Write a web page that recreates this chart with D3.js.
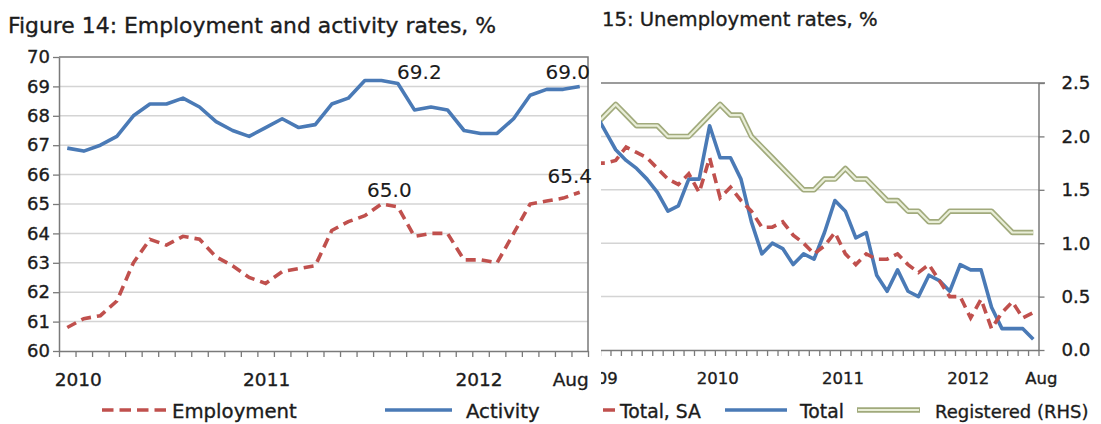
<!DOCTYPE html>
<html>
<head>
<meta charset="utf-8">
<script src="https://cdn.jsdelivr.net/npm/d3@7"></script>
<style>
  body { margin: 0; background: #fff; }
  svg { display: block; font-family: "DejaVu Sans", sans-serif; }
  svg text { stroke: #1c1c1c; stroke-width: 0.35px; }
</style>
</head>
<body>
<svg id="chart" width="1101" height="424"></svg>
<script>
// ---- Figure 14: employment and activity rates, Jan 2010 - Aug 2012
const monthsL = [
  "2010-01","2010-02","2010-03","2010-04","2010-05","2010-06","2010-07","2010-08","2010-09","2010-10","2010-11","2010-12",
  "2011-01","2011-02","2011-03","2011-04","2011-05","2011-06","2011-07","2011-08","2011-09","2011-10","2011-11","2011-12",
  "2012-01","2012-02","2012-03","2012-04","2012-05","2012-06","2012-07","2012-08"
];
const activity = [66.9, 66.8, 67.0, 67.3, 68.0, 68.4, 68.4, 68.6, 68.3, 67.8, 67.5, 67.3,
                  67.6, 67.9, 67.6, 67.7, 68.4, 68.6, 69.2, 69.2, 69.1, 68.2, 68.3, 68.2,
                  67.5, 67.4, 67.4, 67.9, 68.7, 68.9, 68.9, 69.0];
const employment = [60.8, 61.1, 61.2, 61.7, 63.0, 63.8, 63.6, 63.9, 63.8, 63.2, 62.9, 62.5,
                    62.3, 62.7, 62.8, 62.9, 64.1, 64.4, 64.6, 65.0, 64.9, 63.9, 64.0, 64.0,
                    63.1, 63.1, 63.0, 64.0, 65.0, 65.1, 65.2, 65.4];
const yTicksL = [60, 61, 62, 63, 64, 65, 66, 67, 68, 69, 70];
const tickMonthsL = ["2010-01", "2011-01", "2012-01", "2012-08"];
const tickTextL = ["2010", "2011", "2012", "Aug"];
const noteMonthsL = ["2011-08", "2012-08", "2011-08", "2012-08"];
const noteValuesL = [69.2, 69.0, 65.0, 65.4];

// ---- Figure 15: unemployment rates (its left axis is hidden behind figure 14)
const monthsR = [
  "2009-02","2009-03","2009-04","2009-05","2009-06","2009-07","2009-08","2009-09","2009-10","2009-11","2009-12",
  "2010-01","2010-02","2010-03","2010-04","2010-05","2010-06","2010-07","2010-08","2010-09","2010-10","2010-11","2010-12",
  "2011-01","2011-02","2011-03","2011-04","2011-05","2011-06","2011-07","2011-08","2011-09","2011-10","2011-11","2011-12",
  "2012-01","2012-02","2012-03","2012-04","2012-05","2012-06","2012-07","2012-08"
];
const totalSA = [15.0, 15.0, 15.1, 15.6, 15.4, 15.2, 14.8, 14.4, 14.2, 14.6, 13.9,
                 15.2, 13.7, 14.1, 13.6, 13.2, 12.6, 12.6, 12.8, 12.3, 12.0, 11.6, 11.9,
                 12.4, 11.6, 11.2, 11.6, 11.4, 11.4, 11.6, 11.2, 10.9, 11.2, 10.6, 10.0,
                 10.0, 9.2, 9.9, 8.8, 9.4, 9.8, 9.2, 9.4];
const total = [16.9, 16.2, 15.5, 15.1, 14.8, 14.4, 13.9, 13.2, 13.4, 14.4, 14.4,
               16.4, 15.2, 15.2, 14.4, 12.8, 11.6, 12.0, 11.8, 11.2, 11.6, 11.4, 12.4,
               13.6, 13.2, 12.2, 12.4, 10.8, 10.2, 11.0, 10.2, 10.0, 10.8, 10.6, 10.2,
               11.2, 11.0, 11.0, 9.6, 8.8, 8.8, 8.8, 8.4];
const registered = [2.1, 2.2, 2.3, 2.2, 2.1, 2.1, 2.1, 2.0, 2.0, 2.0, 2.1,
                    2.2, 2.3, 2.2, 2.2, 2.0, 1.9, 1.8, 1.7, 1.6, 1.5, 1.5, 1.6,
                    1.6, 1.7, 1.6, 1.6, 1.5, 1.4, 1.4, 1.3, 1.3, 1.2, 1.2, 1.3,
                    1.3, 1.3, 1.3, 1.3, 1.2, 1.1, 1.1, 1.1];
const yTicksR = [0, 0.5, 1.0, 1.5, 2.0, 2.5];
const tickMonthsR = ["2009-02", "2010-01", "2011-01", "2012-01", "2012-08"];
const tickTextR = ["09", "2010", "2011", "2012", "Aug"];

const RED = '#c0504d', BLUE = '#4a7ab6', AXIS = '#7a7a7a', GRID = '#d4d4d4', INK = '#1c1c1c';
const OLIVE = '#a1aa7c', OLIVE_IN = '#e9eed8';

const svg = d3.select('#chart');

// ================= right panel (drawn first, figure 14 sits on top of it)
const right = svg.append('g');

const xRi = d3.scaleLinear().domain([0, monthsR.length]).range([589.6, 1038.5]);
const xR = m => xRi(monthsR.indexOf(m) + 0.5);
const yR = d3.scaleLinear().domain([0, 2.5]).range([350, 83]);
const yRL = d3.scaleLinear().domain([8, 18]).range([350, 83]);   // hidden LHS

right.append('text')
  .attr('x', 602).attr('y', 26)
  .attr('font-size', 19.6).attr('fill', INK)
  .text('15: Unemployment rates, %');

// gridlines
right.selectAll('line.grid')
  .data(yTicksR.filter(d => d > 0 && d < 2.5))
  .join('line')
  .attr('class', 'grid')
  .attr('x1', 589).attr('x2', 1038.5)
  .attr('y1', yR).attr('y2', yR)
  .attr('stroke', GRID).attr('stroke-width', 1.5);

// frame top
right.append('line')
  .attr('x1', 589).attr('x2', 1045)
  .attr('y1', yR(2.5)).attr('y2', yR(2.5))
  .attr('stroke', AXIS).attr('stroke-width', 1.5);

// right axis
const axR = right.append('g')
  .attr('transform', 'translate(1038.5,0)')
  .call(d3.axisRight(yR).tickValues(yTicksR).tickSize(6).tickSizeOuter(0)
    .tickPadding(17).tickFormat(d3.format('.1f')));

// bottom axis, one tick per month
const axBR = right.append('g')
  .attr('transform', `translate(0,${yR(0)})`)
  .call(d3.axisBottom(xRi).tickValues(d3.range(0, monthsR.length + 1))
    .tickSize(6).tickSizeOuter(0).tickFormat(''));

[axR, axBR].forEach(a => {
  a.select('.domain').attr('stroke', AXIS).attr('stroke-width', 1.5);
  a.selectAll('.tick line').attr('stroke', AXIS).attr('stroke-width', 1.3);
  a.selectAll('.tick text').attr('fill', INK).attr('font-size', 18.2)
    .attr('font-family', '"DejaVu Sans", sans-serif');
});

right.selectAll('text.xlab')
  .data(tickMonthsR)
  .join('text')
  .attr('class', 'xlab')
  .attr('x', (d, i) => xR(d) + (i === 0 ? 23 : 8))
  .attr('y', 384)
  .attr('text-anchor', (d, i) => i === 0 ? 'end' : 'middle')
  .attr('font-size', 16.5).attr('fill', INK)
  .text((d, i) => tickTextR[i]);

const lineR = (scale) => d3.line()
  .x((d, i) => xR(monthsR[i]))
  .y(d => scale(d));

// registered: a pale line with an olive outline
right.append('path')
  .attr('d', lineR(yR)(registered))
  .attr('fill', 'none').attr('stroke', OLIVE).attr('stroke-width', 5.5)
  .attr('stroke-linejoin', 'round');
right.append('path')
  .attr('d', lineR(yR)(registered))
  .attr('fill', 'none').attr('stroke', OLIVE_IN).attr('stroke-width', 2.2)
  .attr('stroke-linejoin', 'round');

right.append('path')
  .attr('d', lineR(yRL)(total))
  .attr('fill', 'none').attr('stroke', BLUE).attr('stroke-width', 3.6)
  .attr('stroke-linejoin', 'round');

right.append('path')
  .attr('d', lineR(yRL)(totalSA))
  .attr('fill', 'none').attr('stroke', RED).attr('stroke-width', 3.6)
  .attr('stroke-dasharray', '10,6');

// legend
const legR = right.append('g').attr('transform', 'translate(0,410)');
legR.append('line').attr('x1', 615).attr('x2', 560).attr('y1', 0).attr('y2', 0)
  .attr('stroke', RED).attr('stroke-width', 3.6).attr('stroke-dasharray', '12,6');
legR.append('text').attr('x', 620).attr('y', 8).attr('font-size', 18.8).attr('fill', INK).text('Total, SA');
legR.append('line').attr('x1', 725).attr('x2', 787).attr('y1', 0).attr('y2', 0)
  .attr('stroke', BLUE).attr('stroke-width', 3.6);
legR.append('text').attr('x', 800).attr('y', 8).attr('font-size', 18.8).attr('fill', INK).text('Total');
legR.append('line').attr('x1', 857).attr('x2', 920).attr('y1', 0).attr('y2', 0)
  .attr('stroke', OLIVE).attr('stroke-width', 5.5);
legR.append('line').attr('x1', 858).attr('x2', 919).attr('y1', 0).attr('y2', 0)
  .attr('stroke', OLIVE_IN).attr('stroke-width', 2.2);
legR.append('text').attr('x', 935).attr('y', 8).attr('font-size', 18).attr('fill', INK).text('Registered (RHS)');

// ================= left panel
const left = svg.append('g');
left.append('rect').attr('x', 0).attr('y', 0).attr('width', 601).attr('height', 424).attr('fill', '#fff');

const xLi = d3.scaleLinear().domain([0, monthsL.length]).range([59, 588]);
const xL = m => xLi(monthsL.indexOf(m) + 0.5);
const yL = d3.scaleLinear().domain([60, 70]).range([351, 57]);

left.append('text')
  .attr('x', 8).attr('y', 33)
  .attr('font-size', 21.9).attr('fill', INK)
  .text('Figure 14: Employment and activity rates, %');

left.selectAll('line.grid')
  .data(yTicksL.filter(d => d > 60 && d < 70))
  .join('line')
  .attr('class', 'grid')
  .attr('x1', 59).attr('x2', 588)
  .attr('y1', yL).attr('y2', yL)
  .attr('stroke', GRID).attr('stroke-width', 1.5);

// frame top and right
left.append('path')
  .attr('d', `M59,${yL(70)}H588V${yL(60)}`)
  .attr('fill', 'none').attr('stroke', AXIS).attr('stroke-width', 1.5);

const axL = left.append('g')
  .attr('transform', 'translate(59,0)')
  .call(d3.axisLeft(yL).tickValues(yTicksL).tickSize(6).tickSizeOuter(0).tickPadding(3));

const axBL = left.append('g')
  .attr('transform', `translate(0,${yL(60)})`)
  .call(d3.axisBottom(xLi).tickValues(d3.range(0, monthsL.length + 1))
    .tickSize(6).tickSizeOuter(0).tickFormat(''));

[axL, axBL].forEach(a => {
  a.select('.domain').attr('stroke', AXIS).attr('stroke-width', 1.5);
  a.selectAll('.tick line').attr('stroke', AXIS).attr('stroke-width', 1.3);
  a.selectAll('.tick text').attr('fill', INK).attr('font-size', 18)
    .attr('font-family', '"DejaVu Sans", sans-serif');
});

const labelNudgeL = [11, 1, 15, -9];
left.selectAll('text.xlab')
  .data(tickMonthsL)
  .join('text')
  .attr('class', 'xlab')
  .attr('x', (d, i) => xL(d) + labelNudgeL[i])
  .attr('y', 386)
  .attr('text-anchor', 'middle')
  .attr('font-size', 18.5).attr('fill', INK)
  .text((d, i) => tickTextL[i]);

const lineL = d3.line()
  .x((d, i) => xL(monthsL[i]))
  .y(d => yL(d));

left.append('path')
  .attr('d', lineL(activity))
  .attr('fill', 'none').attr('stroke', BLUE).attr('stroke-width', 3.6)
  .attr('stroke-linejoin', 'round');

left.append('path')
  .attr('d', lineL(employment))
  .attr('fill', 'none').attr('stroke', RED).attr('stroke-width', 3.6)
  .attr('stroke-dasharray', '10,6');

// value notes
const noteDx = [38, -12, 8, -10], noteDy = [-2, -7, -7, -9];
left.selectAll('text.note')
  .data(noteValuesL)
  .join('text')
  .attr('class', 'note')
  .attr('x', (d, i) => xL(noteMonthsL[i]) + noteDx[i])
  .attr('y', (d, i) => yL(d) + noteDy[i])
  .attr('text-anchor', 'middle')
  .attr('font-size', 20).attr('fill', INK)
  .style('stroke-width', '0.1px')
  .text(d => d.toFixed(1));

// legend
const legL = left.append('g').attr('transform', 'translate(0,410)');
legL.append('line').attr('x1', 102).attr('x2', 167).attr('y1', 0).attr('y2', 0)
  .attr('stroke', RED).attr('stroke-width', 3.6).attr('stroke-dasharray', '11.5,6');
legL.append('text').attr('x', 172).attr('y', 8).attr('font-size', 19.7).attr('fill', INK).text('Employment');
legL.append('line').attr('x1', 385).attr('x2', 452).attr('y1', 0).attr('y2', 0)
  .attr('stroke', BLUE).attr('stroke-width', 3.6);
legL.append('text').attr('x', 466).attr('y', 8).attr('font-size', 19.7).attr('fill', INK).text('Activity');
</script>
</body>
</html>
